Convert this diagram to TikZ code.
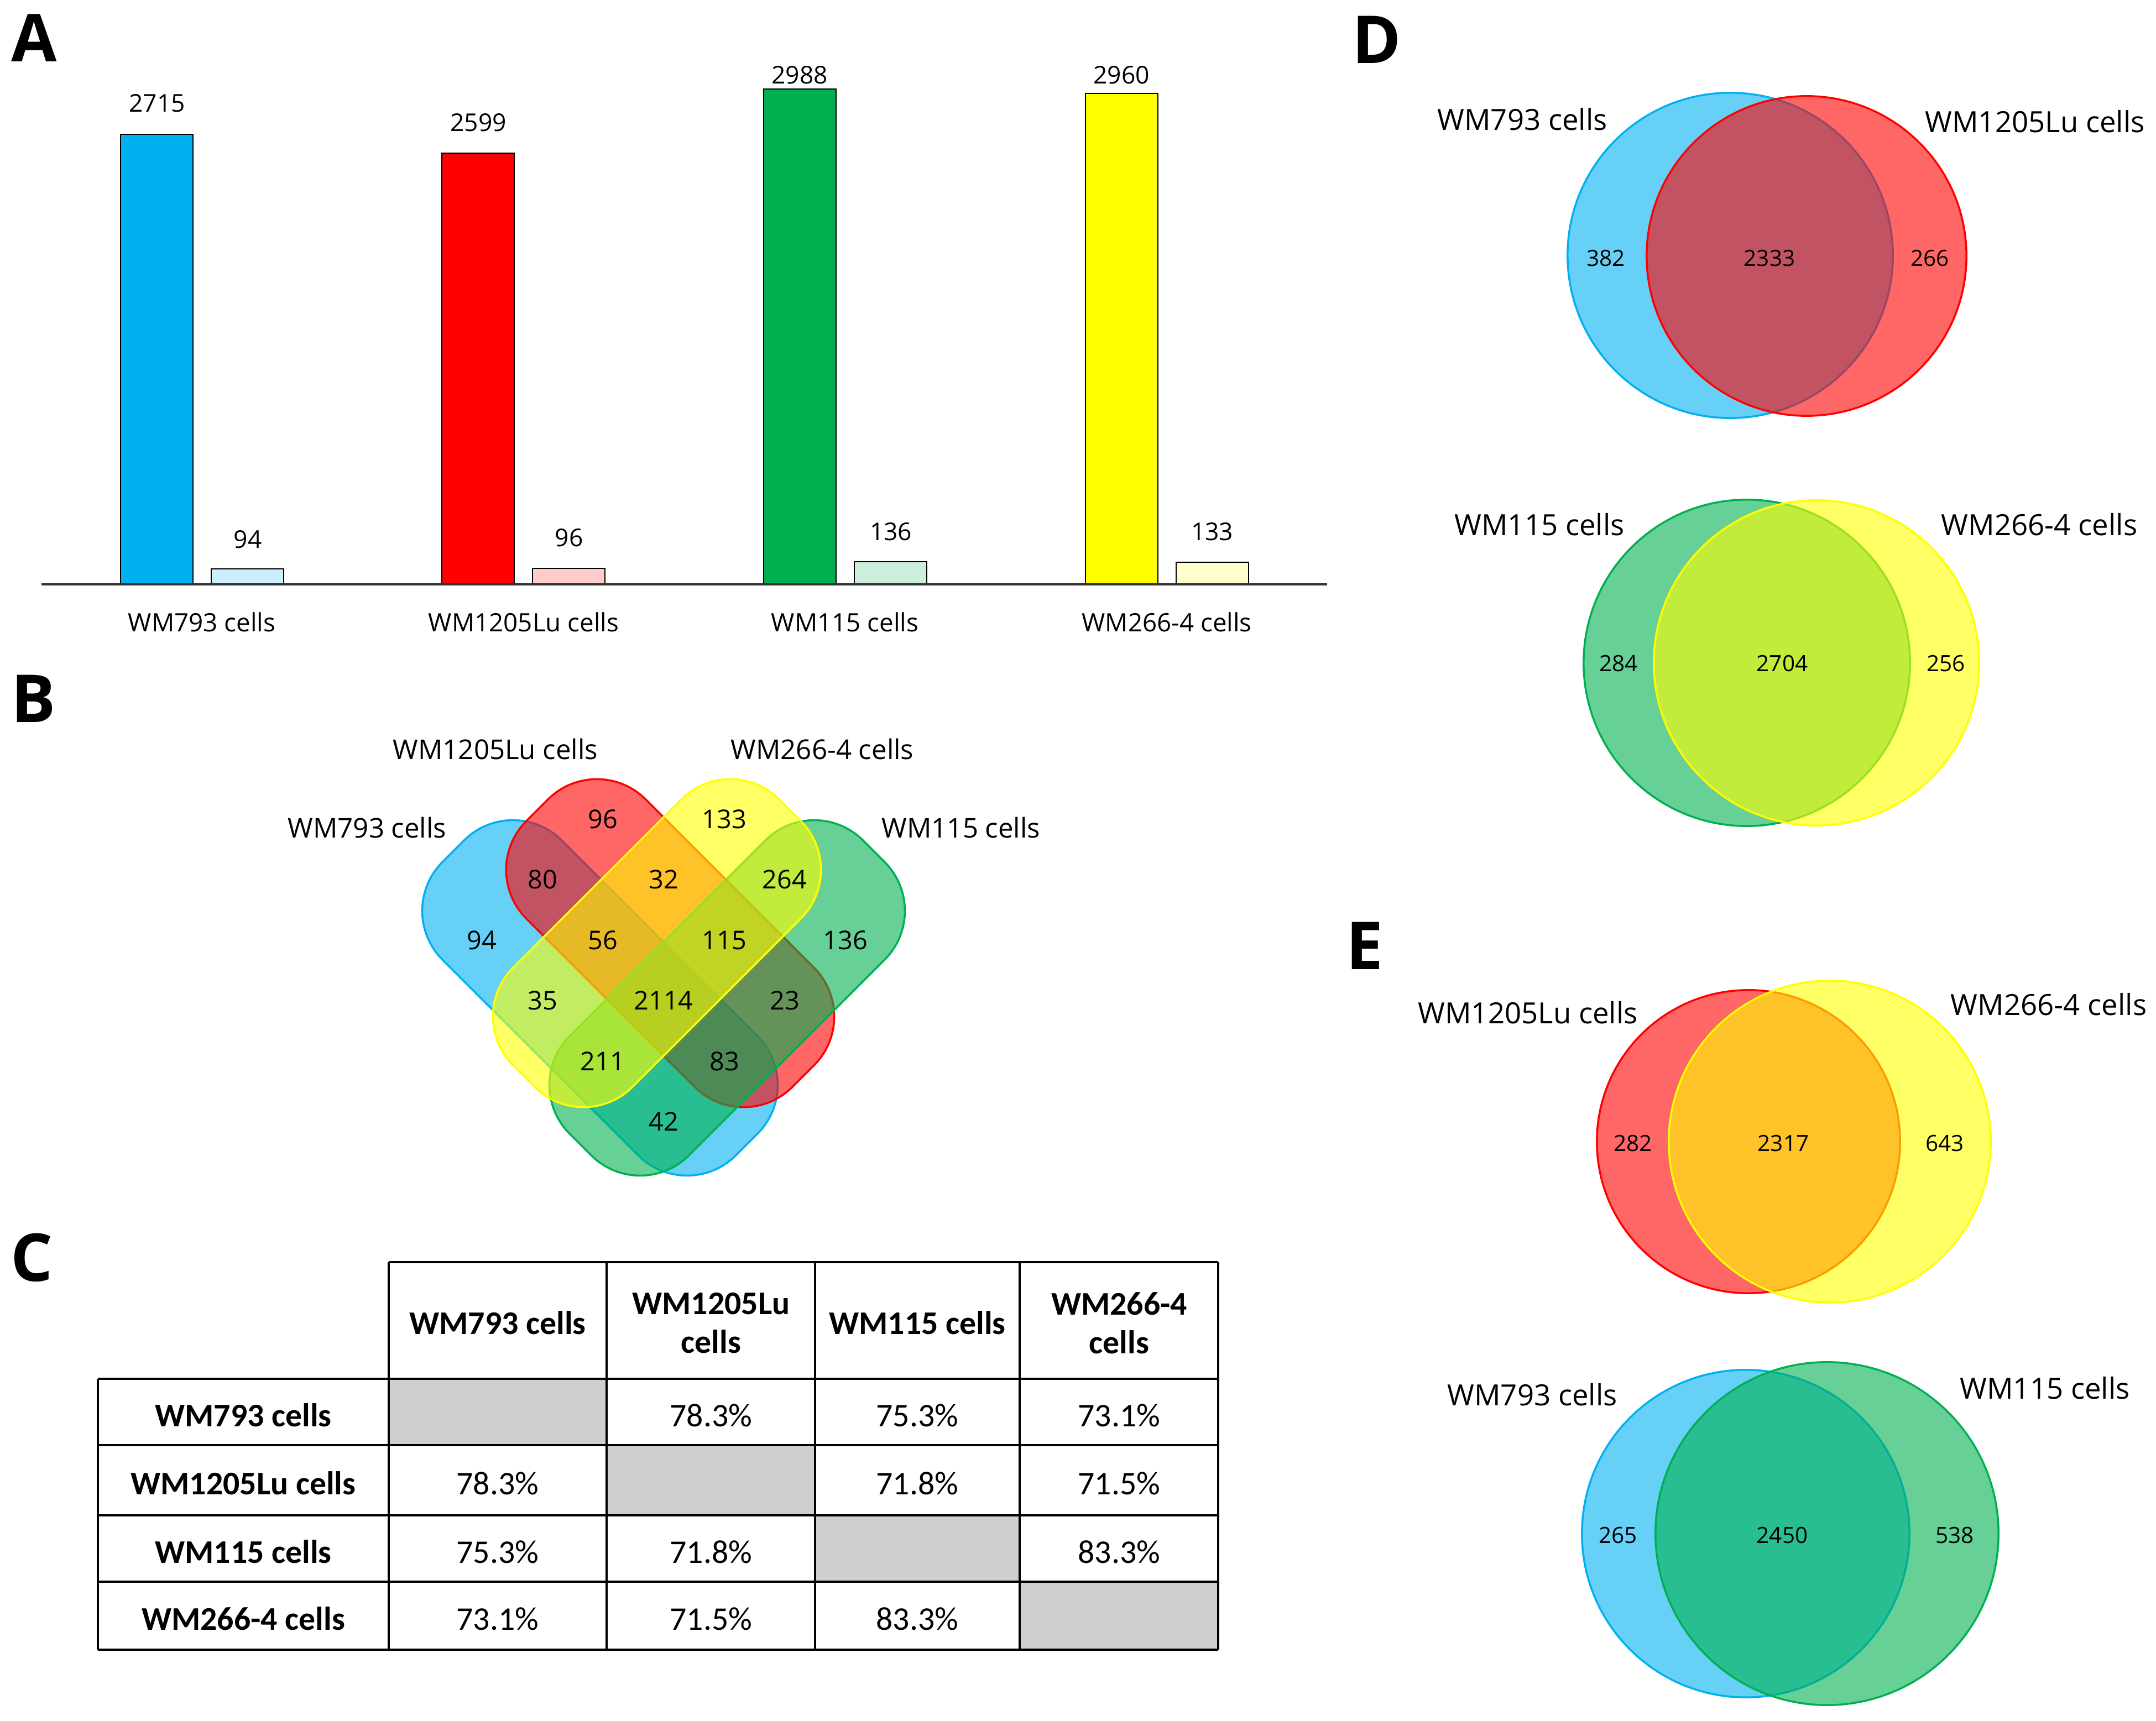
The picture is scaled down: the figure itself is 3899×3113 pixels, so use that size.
\documentclass[tikz,border=0pt]{standalone}
\usepackage{fontspec}
\setmainfont{Open Sans}
\newfontfamily\calfont{Carlito}
\usetikzlibrary{positioning}

\definecolor{wmblue}{HTML}{00B0F0}
\definecolor{wmred}{HTML}{FF0000}
\definecolor{wmgreen}{HTML}{00B050}
\definecolor{wmyellow}{HTML}{FFFF00}
\definecolor{cellgrey}{HTML}{D0CECE}

\tikzstyle{panel} = [inner sep=0pt, font=\fontsize{34}{34}\selectfont\bfseries]
\tikzstyle{barvalue} = [inner sep=0pt, font=\fontsize{12.6}{14}\selectfont]
\tikzstyle{barname} = [inner sep=0pt, font=\fontsize{13}{15}\selectfont]
\tikzstyle{setname} = [inner sep=0pt, font=\fontsize{14}{16}\selectfont]
\tikzstyle{setcount} = [inner sep=0pt, font=\fontsize{13.3}{15}\selectfont]
\tikzstyle{pairname} = [inner sep=0pt, font=\fontsize{15}{17}\selectfont]
\tikzstyle{paircount} = [inner sep=0pt, font=\fontsize{11.5}{13}\selectfont]
\tikzstyle{tabhead} = [inner sep=0pt, align=center, font=\calfont\fontsize{17}{20}\selectfont\bfseries]
\tikzstyle{tabcell} = [inner sep=0pt, font=\calfont\fontsize{17}{20}\selectfont]
\tikzset{bigbar/.style = {draw=black, line width=0.8pt},
  tabline/.style = {line width=1.3pt},
  venn/.style = {fill opacity=0.6, line width=1pt, inner sep=0pt},
  lozenge/.style = {venn, rectangle, rounded corners=1.25cm, minimum height=3.05cm},
  disc/.style = {venn, circle}
}

\begin{document}
\begin{tikzpicture}[x=0.01cm, y=-0.01cm]
  \useasboundingbox (0,0) rectangle (3899,3113);

  % panel letters
  \node[panel] (pA) at (62,69) {A};
  \node[panel] (pB) at (61,1264) {B};
  \node[panel] (pC) at (58,2275) {C};
  \node[panel] (pD) at (2490,72) {D};
  \node[panel] (pE) at (2468,1711) {E};

  % bars
  \draw[bigbar, fill=wmblue] (218,1057) rectangle (349,243);
  \draw[bigbar, fill=wmblue!20] (382,1057) rectangle (513,1029);
  \draw[bigbar, fill=wmred] (799,1057) rectangle (930,277);
  \draw[bigbar, fill=wmred!20] (963,1057) rectangle (1094,1028);
  \draw[bigbar, fill=wmgreen] (1381,1057) rectangle (1512,161);
  \draw[bigbar, fill=wmgreen!20] (1545,1057) rectangle (1676,1016);
  \draw[bigbar, fill=wmyellow] (1963,1057) rectangle (2094,169);
  \draw[bigbar, fill=wmyellow!20] (2127,1057) rectangle (2258,1017);
  \draw[line width=1pt, black!80] (75,1057) -- (2400,1057);

  \node[barvalue] (v793) at (284,187) {2715};
  \node[barvalue] (u793) at (448,976) {94};
  \node[barvalue] (v1205) at (865,222) {2599};
  \node[barvalue] (u1205) at (1029,973) {96};
  \node[barvalue] (v115) at (1446,136) {2988};
  \node[barvalue] (u115) at (1611,962) {136};
  \node[barvalue] (v266) at (2028,136) {2960};
  \node[barvalue] (u266) at (2192,962) {133};

  \node[barname] (a793) at (365,1125) {WM793 cells};
  \node[barname] (a1205) at (947,1125) {WM1205Lu cells};
  \node[barname] (a115) at (1528,1125) {WM115 cells};
  \node[barname] (a266) at (2110,1125) {WM266-4 cells};

  % four-set venn
  \node[lozenge, rotate=-45, draw=wmblue, fill=wmblue, minimum width=7.5cm] (b793) at (1085,1805) {};
  \node[lozenge, rotate=-45, draw=wmred, fill=wmred, minimum width=6.8cm] (b1205) at (1212,1706) {};
  \node[lozenge, rotate=45, draw=wmgreen, fill=wmgreen, minimum width=7.5cm] (b115) at (1315,1805) {};
  \node[lozenge, rotate=45, draw=wmyellow, fill=wmyellow, minimum width=6.8cm] (b266) at (1188,1706) {};

  \node[setname] (n793) at (664,1497) {WM793 cells};
  \node[setname] (n1205) at (896,1355) {WM1205Lu cells};
  \node[setname] (n266) at (1487,1355) {WM266-4 cells};
  \node[setname] (n115) at (1738,1497) {WM115 cells};

  \node[setcount] (k96) at (1090,1482) {96};
  \node[setcount] (k133) at (1310,1482) {133};
  \node[setcount] (k80) at (981,1591) {80};
  \node[setcount] (k32) at (1200,1591) {32};
  \node[setcount] (k264) at (1419,1591) {264};
  \node[setcount] (k94) at (871,1701) {94};
  \node[setcount] (k56) at (1090,1701) {56};
  \node[setcount] (k115) at (1310,1701) {115};
  \node[setcount] (k136) at (1529,1701) {136};
  \node[setcount] (k35) at (981,1810) {35};
  \node[setcount] (k2114) at (1200,1810) {2114};
  \node[setcount] (k23) at (1419,1810) {23};
  \node[setcount] (k211) at (1090,1920) {211};
  \node[setcount] (k83) at (1310,1920) {83};
  \node[setcount] (k42) at (1200,2029) {42};

  % table
  \fill[cellgrey] (703,2494) rectangle (1097,2614);
  \fill[cellgrey] (1097,2614) rectangle (1474,2741);
  \fill[cellgrey] (1474,2741) rectangle (1844,2861);
  \fill[cellgrey] (1844,2861) rectangle (2203,2984);
  \draw[tabline] (703,2283) -- (2203,2283)
    (177,2494) -- (2203,2494) (177,2614) -- (2203,2614)
    (177,2741) -- (2203,2741) (177,2861) -- (2203,2861)
    (177,2984) -- (2203,2984);
  \draw[tabline] (177,2494) -- (177,2984)
    (703,2283) -- (703,2984) (1097,2283) -- (1097,2984)
    (1474,2283) -- (1474,2984) (1844,2283) -- (1844,2984)
    (2203,2283) -- (2203,2984);

  \node[tabhead] (h793) at (900,2393) {WM793 cells};
  \node[tabhead] (h1205) at (1286,2393) {WM1205Lu\\cells};
  \node[tabhead] (h115) at (1659,2393) {WM115 cells};
  \node[tabhead] (h266) at (2024,2393) {WM266-4\\cells};

  \node[tabhead] (r793) at (440,2560) {WM793 cells};
  \node[tabhead] (r1205) at (440,2683) {WM1205Lu cells};
  \node[tabhead] (r115) at (440,2807) {WM115 cells};
  \node[tabhead] (r266) at (440,2928) {WM266-4 cells};

  \node[tabcell] (c12) at (1286,2560) {78.3\%};
  \node[tabcell] (c13) at (1659,2560) {75.3\%};
  \node[tabcell] (c14) at (2024,2560) {73.1\%};
  \node[tabcell] (c21) at (900,2683) {78.3\%};
  \node[tabcell] (c23) at (1659,2683) {71.8\%};
  \node[tabcell] (c24) at (2024,2683) {71.5\%};
  \node[tabcell] (c31) at (900,2807) {75.3\%};
  \node[tabcell] (c32) at (1286,2807) {71.8\%};
  \node[tabcell] (c34) at (2024,2807) {83.3\%};
  \node[tabcell] (c41) at (900,2928) {73.1\%};
  \node[tabcell] (c42) at (1286,2928) {71.5\%};
  \node[tabcell] (c43) at (1659,2928) {83.3\%};

  % two-set venns D
  \node[disc, draw=wmblue, fill=wmblue, minimum size=5.88cm] (d793) at (3129,462) {};
  \node[disc, draw=wmred, fill=wmred, minimum size=5.78cm] (d1205) at (3267,463) {};
  \node[pairname] (dn793) at (2753,216) {WM793 cells};
  \node[pairname] (dn1205) at (3680,220) {WM1205Lu cells};
  \node[paircount] (dk382) at (2904,467) {382};
  \node[paircount] (dk2333) at (3200,467) {2333};
  \node[paircount] (dk266) at (3490,467) {266};

  \node[disc, draw=wmgreen, fill=wmgreen, minimum size=5.9cm] (d115) at (3159,1199) {};
  \node[disc, draw=wmyellow, fill=wmyellow, minimum size=5.88cm] (d266) at (3285,1199) {};
  \node[pairname] (dn115) at (2784,949) {WM115 cells};
  \node[pairname] (dn266) at (3688,949) {WM266-4 cells};
  \node[paircount] (dk284) at (2927,1200) {284};
  \node[paircount] (dk2704) at (3223,1200) {2704};
  \node[paircount] (dk256) at (3519,1200) {256};

  % two-set venns E
  \node[disc, draw=wmred, fill=wmred, minimum size=5.48cm] (e1205) at (3162,2065) {};
  \node[disc, draw=wmyellow, fill=wmyellow, minimum size=5.82cm] (e266) at (3309,2065) {};
  \node[pairname] (en1205) at (2763,1832) {WM1205Lu cells};
  \node[pairname] (en266) at (3705,1817) {WM266-4 cells};
  \node[paircount] (ek282) at (2953,2068) {282};
  \node[paircount] (ek2317) at (3225,2068) {2317};
  \node[paircount] (ek643) at (3517,2068) {643};

  \node[disc, draw=wmblue, fill=wmblue, minimum size=5.92cm] (e793) at (3157,2774) {};
  \node[disc, draw=wmgreen, fill=wmgreen, minimum size=6.2cm] (e115) at (3304,2774) {};
  \node[pairname] (en793) at (2771,2523) {WM793 cells};
  \node[pairname] (en115) at (3698,2511) {WM115 cells};
  \node[paircount] (ek265) at (2926,2777) {265};
  \node[paircount] (ek2450) at (3223,2777) {2450};
  \node[paircount] (ek538) at (3535,2777) {538};
\end{tikzpicture}
\end{document}
